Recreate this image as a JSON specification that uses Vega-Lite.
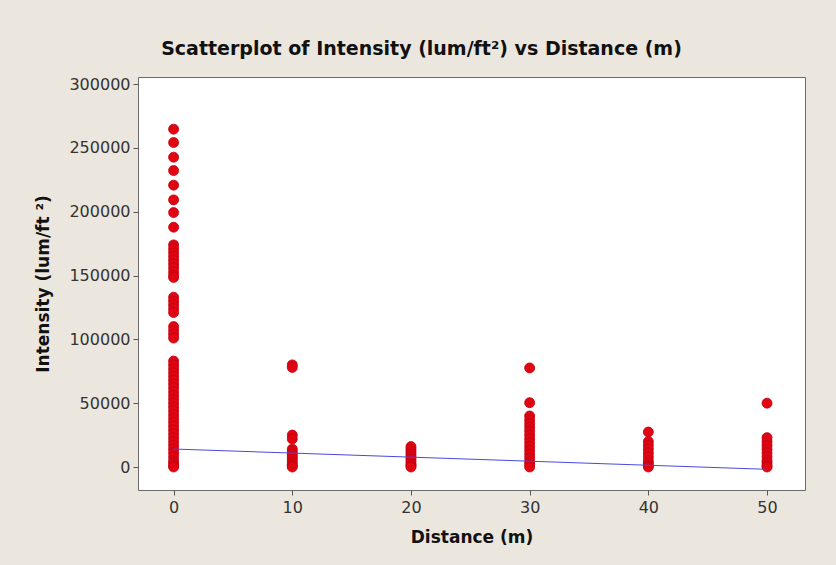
{
  "$schema": "https://vega.github.io/schema/vega-lite/v6.json",
  "width": 667,
  "height": 413,
  "autosize": {"type": "none"},
  "padding": {"left": 138, "top": 77, "right": 31, "bottom": 75},
  "background": "#ece7de",
  "title": {
    "text": "Scatterplot of Intensity (lum/ft²) vs Distance (m)",
    "font": "DejaVu Sans",
    "fontSize": 19,
    "fontWeight": "bold",
    "color": "#111111",
    "anchor": "middle",
    "frame": "group",
    "dx": -50,
    "offset": 17
  },
  "config": {
    "view": {"fill": "#ffffff", "stroke": "#6b6b6b", "strokeWidth": 1},
    "axis": {
      "grid": false,
      "domain": false,
      "tickColor": "#555555",
      "tickSize": 5,
      "labelFont": "DejaVu Sans",
      "labelFontSize": 16,
      "labelColor": "#333333",
      "titleFont": "DejaVu Sans",
      "titleFontSize": 17,
      "titleFontWeight": "bold",
      "titleColor": "#111111"
    }
  },
  "datasets": {
    "points": [
      {"distance": 0, "intensity": 264650}, {"distance": 0, "intensity": 254150}, {"distance": 0, "intensity": 242700}, {"distance": 0, "intensity": 232200},
      {"distance": 0, "intensity": 220800}, {"distance": 0, "intensity": 209250}, {"distance": 0, "intensity": 199300}, {"distance": 0, "intensity": 187850},
      {"distance": 0, "intensity": 174000}, {"distance": 0, "intensity": 171000}, {"distance": 0, "intensity": 168000}, {"distance": 0, "intensity": 165000},
      {"distance": 0, "intensity": 162000}, {"distance": 0, "intensity": 159000}, {"distance": 0, "intensity": 156000}, {"distance": 0, "intensity": 153000},
      {"distance": 0, "intensity": 150000}, {"distance": 0, "intensity": 148500},
      {"distance": 0, "intensity": 133000}, {"distance": 0, "intensity": 130000}, {"distance": 0, "intensity": 127000}, {"distance": 0, "intensity": 124000}, {"distance": 0, "intensity": 121000},
      {"distance": 0, "intensity": 110000}, {"distance": 0, "intensity": 107000}, {"distance": 0, "intensity": 104000}, {"distance": 0, "intensity": 101000},
      {"distance": 0, "intensity": 83000}, {"distance": 0, "intensity": 80000}, {"distance": 0, "intensity": 77000}, {"distance": 0, "intensity": 74000},
      {"distance": 0, "intensity": 71000}, {"distance": 0, "intensity": 68000}, {"distance": 0, "intensity": 65000}, {"distance": 0, "intensity": 62000},
      {"distance": 0, "intensity": 59000}, {"distance": 0, "intensity": 56000}, {"distance": 0, "intensity": 53000}, {"distance": 0, "intensity": 50000},
      {"distance": 0, "intensity": 47000}, {"distance": 0, "intensity": 44000}, {"distance": 0, "intensity": 41000}, {"distance": 0, "intensity": 38000},
      {"distance": 0, "intensity": 35000}, {"distance": 0, "intensity": 32000}, {"distance": 0, "intensity": 29000}, {"distance": 0, "intensity": 26000},
      {"distance": 0, "intensity": 23000}, {"distance": 0, "intensity": 20000}, {"distance": 0, "intensity": 17000}, {"distance": 0, "intensity": 14000},
      {"distance": 0, "intensity": 11000}, {"distance": 0, "intensity": 8000}, {"distance": 0, "intensity": 5000}, {"distance": 0, "intensity": 3000},
      {"distance": 0, "intensity": 1000}, {"distance": 0, "intensity": 0},
      {"distance": 10, "intensity": 80000}, {"distance": 10, "intensity": 78000}, {"distance": 10, "intensity": 25000}, {"distance": 10, "intensity": 22000},
      {"distance": 10, "intensity": 14000}, {"distance": 10, "intensity": 12000}, {"distance": 10, "intensity": 10000}, {"distance": 10, "intensity": 8000},
      {"distance": 10, "intensity": 6000}, {"distance": 10, "intensity": 4000}, {"distance": 10, "intensity": 2000}, {"distance": 10, "intensity": 1000},
      {"distance": 10, "intensity": 0},
      {"distance": 20, "intensity": 16000}, {"distance": 20, "intensity": 14000}, {"distance": 20, "intensity": 12000}, {"distance": 20, "intensity": 10000},
      {"distance": 20, "intensity": 8000}, {"distance": 20, "intensity": 6000}, {"distance": 20, "intensity": 4000}, {"distance": 20, "intensity": 2000},
      {"distance": 20, "intensity": 1000}, {"distance": 20, "intensity": 0},
      {"distance": 30, "intensity": 77600}, {"distance": 30, "intensity": 50400}, {"distance": 30, "intensity": 40000}, {"distance": 30, "intensity": 37000},
      {"distance": 30, "intensity": 34000}, {"distance": 30, "intensity": 31000}, {"distance": 30, "intensity": 28000}, {"distance": 30, "intensity": 25000},
      {"distance": 30, "intensity": 22000}, {"distance": 30, "intensity": 19000}, {"distance": 30, "intensity": 16000}, {"distance": 30, "intensity": 13000},
      {"distance": 30, "intensity": 10000}, {"distance": 30, "intensity": 7000}, {"distance": 30, "intensity": 4000}, {"distance": 30, "intensity": 2000},
      {"distance": 30, "intensity": 0},
      {"distance": 40, "intensity": 27400}, {"distance": 40, "intensity": 20000}, {"distance": 40, "intensity": 17000}, {"distance": 40, "intensity": 14000},
      {"distance": 40, "intensity": 11000}, {"distance": 40, "intensity": 8000}, {"distance": 40, "intensity": 5000}, {"distance": 40, "intensity": 3000},
      {"distance": 40, "intensity": 1000}, {"distance": 40, "intensity": 0},
      {"distance": 50, "intensity": 50000}, {"distance": 50, "intensity": 23000}, {"distance": 50, "intensity": 20000}, {"distance": 50, "intensity": 17000},
      {"distance": 50, "intensity": 14000}, {"distance": 50, "intensity": 11000}, {"distance": 50, "intensity": 8000}, {"distance": 50, "intensity": 5000},
      {"distance": 50, "intensity": 3000}, {"distance": 50, "intensity": 1000}, {"distance": 50, "intensity": 0}
    ],
    "fit": [
      {"distance": 0, "intensity": 14100},
      {"distance": 50, "intensity": -1800}
    ]
  },
  "layer": [
    {
      "data": {"name": "points"},
      "mark": {"type": "point", "shape": "circle", "filled": true, "size": 100, "opacity": 1, "color": "#e00510", "stroke": "#c00010", "strokeWidth": 0.8},
      "encoding": {
        "x": {
          "field": "distance", "type": "quantitative",
          "scale": {"domain": [-3, 53.2], "nice": false, "zero": false},
          "axis": {"values": [0, 10, 20, 30, 40, 50], "title": "Distance (m)", "titlePadding": 14, "labelPadding": 4}
        },
        "y": {
          "field": "intensity", "type": "quantitative",
          "scale": {"domain": [-18000, 305500], "nice": false, "zero": false},
          "axis": {"values": [0, 50000, 100000, 150000, 200000, 250000, 300000], "format": "d", "title": "Intensity (lum/ft ²)", "titlePadding": 16, "labelPadding": 3}
        }
      }
    },
    {
      "data": {"name": "fit"},
      "mark": {"type": "line", "color": "#4848e0", "strokeWidth": 1},
      "encoding": {
        "x": {"field": "distance", "type": "quantitative"},
        "y": {"field": "intensity", "type": "quantitative"}
      }
    }
  ]
}
